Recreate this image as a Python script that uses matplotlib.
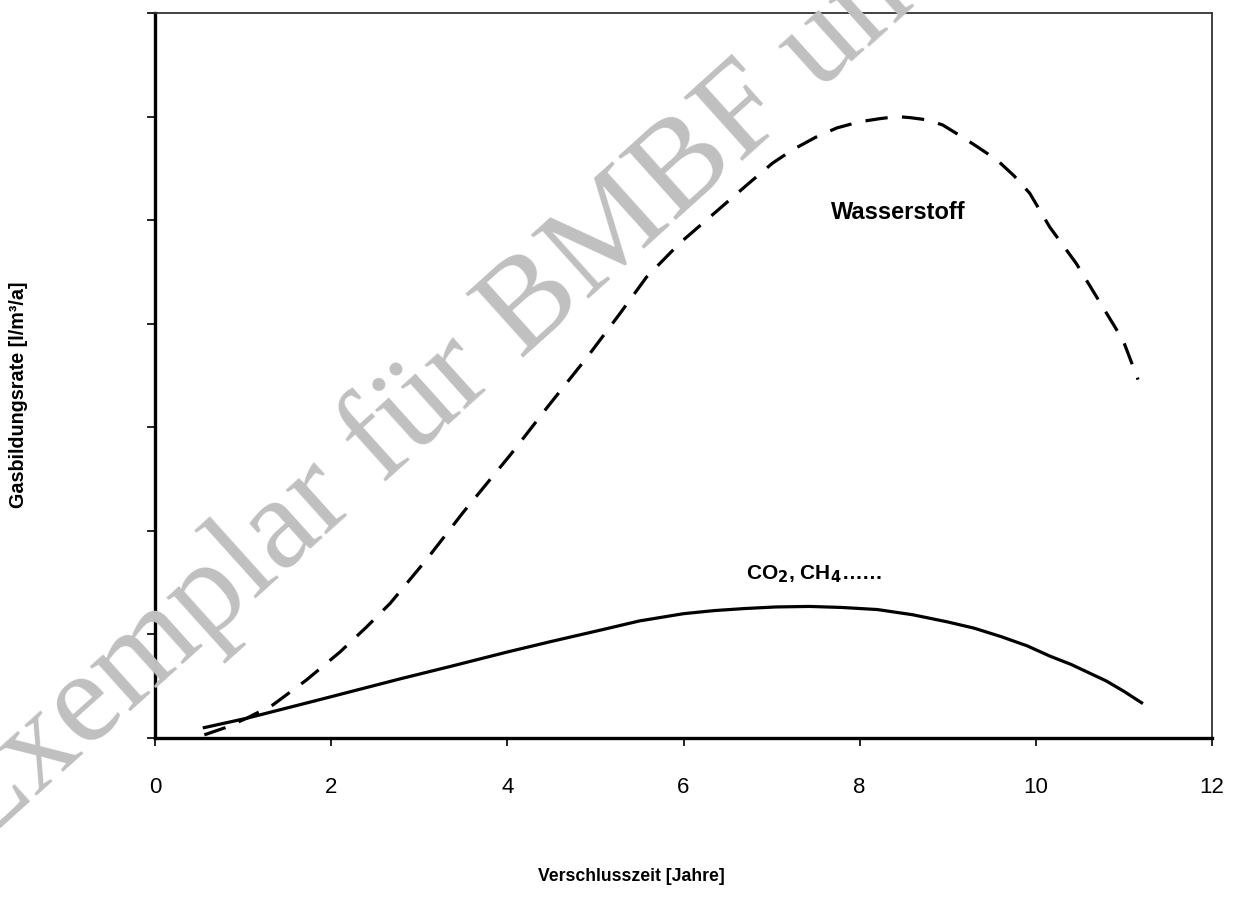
import matplotlib.pyplot as plt

plt.rcParams['font.family'] = ['Liberation Sans', 'DejaVu Sans']

# Gasbildungsrate
co2_x = [0.56, 1.04, 1.87, 2.78, 3.35, 4.0, 4.49, 5.05, 5.5, 6.0, 6.35,
         6.7, 7.05, 7.43, 7.8, 8.2, 8.6, 9.0, 9.3, 9.6, 9.9, 10.16, 10.4,
         10.6, 10.8, 11.0, 11.2]
co2_y = [0.10, 0.19, 0.37, 0.57, 0.69, 0.83, 0.93, 1.04, 1.13, 1.20, 1.23,
         1.25, 1.265, 1.27, 1.26, 1.24, 1.19, 1.12, 1.06, 0.98, 0.89, 0.79,
         0.71, 0.63, 0.55, 0.45, 0.34]

h2_x = [0.56, 0.8, 1.04, 1.34, 1.72, 2.1, 2.4, 2.67, 3.08, 3.5, 4.05,
        4.46, 4.90, 5.28, 5.58, 5.96, 6.30, 6.72, 7.01, 7.24, 7.50, 7.74,
        8.0, 8.23, 8.42, 8.57, 8.75, 8.94, 9.17, 9.35, 9.56, 9.75, 9.93,
        10.16, 10.46, 10.76, 10.99, 11.16]
h2_y = [0.03, 0.10, 0.19, 0.32, 0.56, 0.83, 1.07, 1.30, 1.72, 2.18, 2.75,
        3.20, 3.67, 4.10, 4.45, 4.78, 5.03, 5.34, 5.55, 5.68, 5.80, 5.89,
        5.95, 5.98, 6.00, 5.99, 5.97, 5.92, 5.80, 5.70, 5.58, 5.43, 5.26,
        4.93, 4.58, 4.16, 3.84, 3.46]

x_ticks = [0, 2, 4, 6, 8, 10, 12]
y_ticks = [0, 1, 2, 3, 4, 5, 6, 7]

fig = plt.figure(figsize=(12.34, 8.97), dpi=100)
ax = fig.add_axes([0.1256, 0.1773, 0.8566, 0.8082])

ax.plot(co2_x, co2_y, color='black', lw=2.3, solid_joinstyle='round')
ax.plot(h2_x, h2_y, color='black', lw=2.3, linestyle=(0, (7, 4.5)))

ax.set_xlim(0, 12)
ax.set_ylim(0, 7)
ax.set_xticks(x_ticks)
ax.set_yticks(y_ticks)
ax.set_yticklabels([])
ax.tick_params(axis='both', direction='out', length=6, width=1.2,
               labelsize=16, pad=22)

for side in ['left', 'bottom']:
    ax.spines[side].set_linewidth(2.4)
for side in ['top', 'right']:
    ax.spines[side].set_linewidth(1.3)
    ax.spines[side].set_color('#333333')

ax.text(8.44, 5.07, 'Wasserstoff', fontsize=17, fontweight='bold',
        ha='center', va='center')
ax.text(7.48, 1.58, 'CO$_\\mathbf{2}$, CH$_\\mathbf{4}$……', fontsize=15,
        fontweight='bold', ha='center', va='center')

fig.text(0.512, 0.013, 'Verschlusszeit [Jahre]', fontsize=12.7,
         fontweight='bold', ha='center', va='bottom')
fig.text(0.015, 0.56, 'Gasbildungsrate [l/m³/a]', fontsize=14.2,
         fontweight='bold', ha='center', va='center', rotation=90)

# watermark
fig.text(-0.019, 0.052, 'Exemplar für BMBF und Hochschulen', fontsize=95,
         family=['Liberation Serif', 'DejaVu Serif'], color='#c0c0c0',
         rotation=42, rotation_mode='anchor', ha='left', va='baseline',
         zorder=0)

fig.savefig('out.png', dpi=100)
